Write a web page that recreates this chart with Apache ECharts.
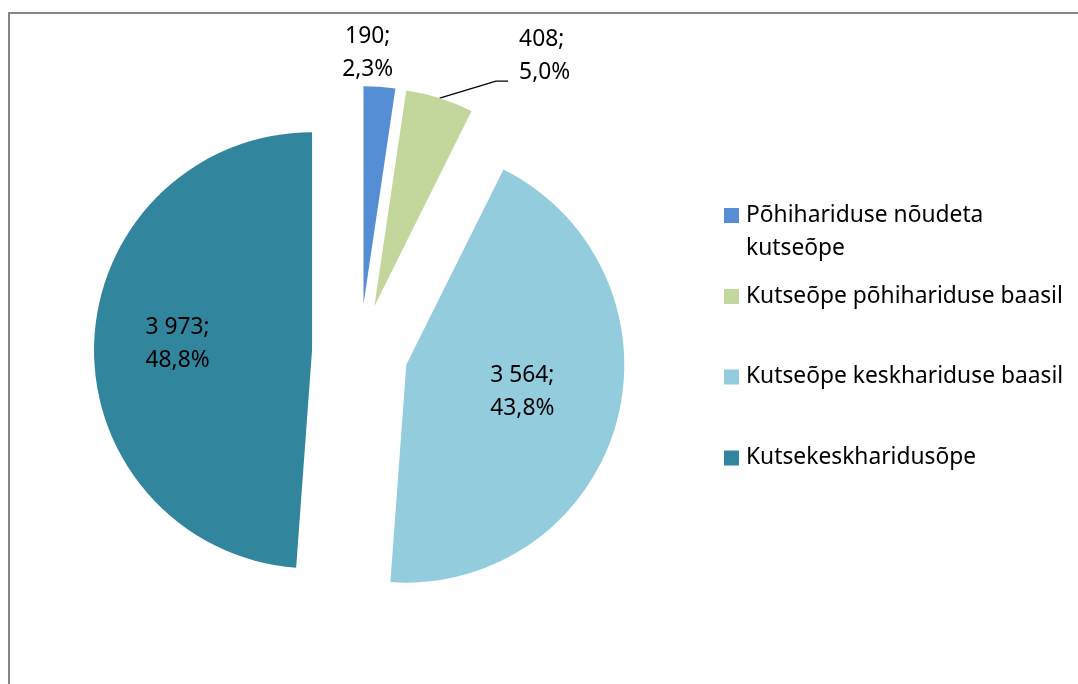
<!DOCTYPE html>
<html>
<head>
<meta charset="utf-8">
<script src="https://cdn.jsdelivr.net/npm/echarts@6/dist/echarts.min.js"></script>
<style>
    html, body { margin: 0; padding: 0; background: #fff; }
    #chart { width: 1078px; height: 684px; }
</style>
</head>
<body>
<div id="chart"></div>
<script>
const categories = [
    'Põhihariduse nõudeta kutseõpe',
    'Kutseõpe põhihariduse baasil',
    'Kutseõpe keskhariduse baasil',
    'Kutsekeskharidusõpe'
];
const values = [190, 408, 3564, 3973];
const colors = ['#558ED5', '#C3D69B', '#93CDDD', '#31859C'];

const font = 'Noto Sans';
const fontSize = 22.8;
const txt = { fontFamily: font, fontSize: fontSize, lineHeight: 33, color: '#000' };

// per slice label placement (style only)
const labelStyles = [
    { position: 'inside', padding: [0, 8, 278, 0] },
    { position: 'outside', padding: [0, 0, 50, 6] },
    { position: 'inside', padding: [0, 0, 5, 16] },
    { position: 'inside', padding: [0, 45, 4, 0] }
];
const lineStyles = [
    { show: false },
    { show: true, length: 18, length2: 63, minTurnAngle: 163 },
    { show: false },
    { show: false }
];
const legendTops = [166, 280, 360.5, 441.5];

const fmtNum = v => String(v).replace(/\B(?=(\d{3})+(?!\d))/g, ' ');
const rich = lines => lines.map(l => '{t|' + l + '}').join('\n');

const myChart = echarts.init(document.getElementById('chart'));

const seriesData = categories.map((name, i) => ({
    name: name,
    value: values[i],
    selected: true,
    itemStyle: { color: colors[i] },
    label: labelStyles[i],
    labelLine: lineStyles[i]
}));

const legends = categories.map((name, i) => ({
    data: [name],
    orient: 'vertical',
    left: 724,
    top: legendTops[i],
    padding: 0,
    itemWidth: 15,
    itemHeight: 15,
    icon: 'rect',
    selectedMode: false,
    // first entry wraps onto two lines like the original
    formatter: n => rich(i === 0 ? n.replace(/ (?=\S+$)/, '\n').split('\n') : [n]),
    textStyle: Object.assign({}, txt, {
        padding: i === 0 ? [33, 0, 0, 2] : [0, 0, 0, 2],
        rich: { t: txt }
    })
}));

const option = {
    backgroundColor: '#fff',
    animation: false,
    graphic: [{
        type: 'rect',
        shape: { x: 9, y: 13, width: 3000, height: 3000 },
        style: { fill: 'none', stroke: '#878787', lineWidth: 2 },
        silent: true
    }],
    legend: legends,
    series: [{
        type: 'pie',
        center: [360, 352],
        radius: 218,
        startAngle: 90,
        clockwise: true,
        selectedMode: 'multiple',
        selectedOffset: 48,
        avoidLabelOverlap: false,
        emphasis: { scale: false },
        label: Object.assign({}, txt, {
            position: 'outside',
            rich: { t: txt },
            formatter: p => rich([fmtNum(p.value) + ';', p.percent.toFixed(1).replace('.', ',') + '%'])
        }),
        labelLine: {
            lineStyle: { color: '#000', width: 1.3 }
        },
        data: seriesData
    }]
};

myChart.setOption(option);
</script>
</body>
</html>
